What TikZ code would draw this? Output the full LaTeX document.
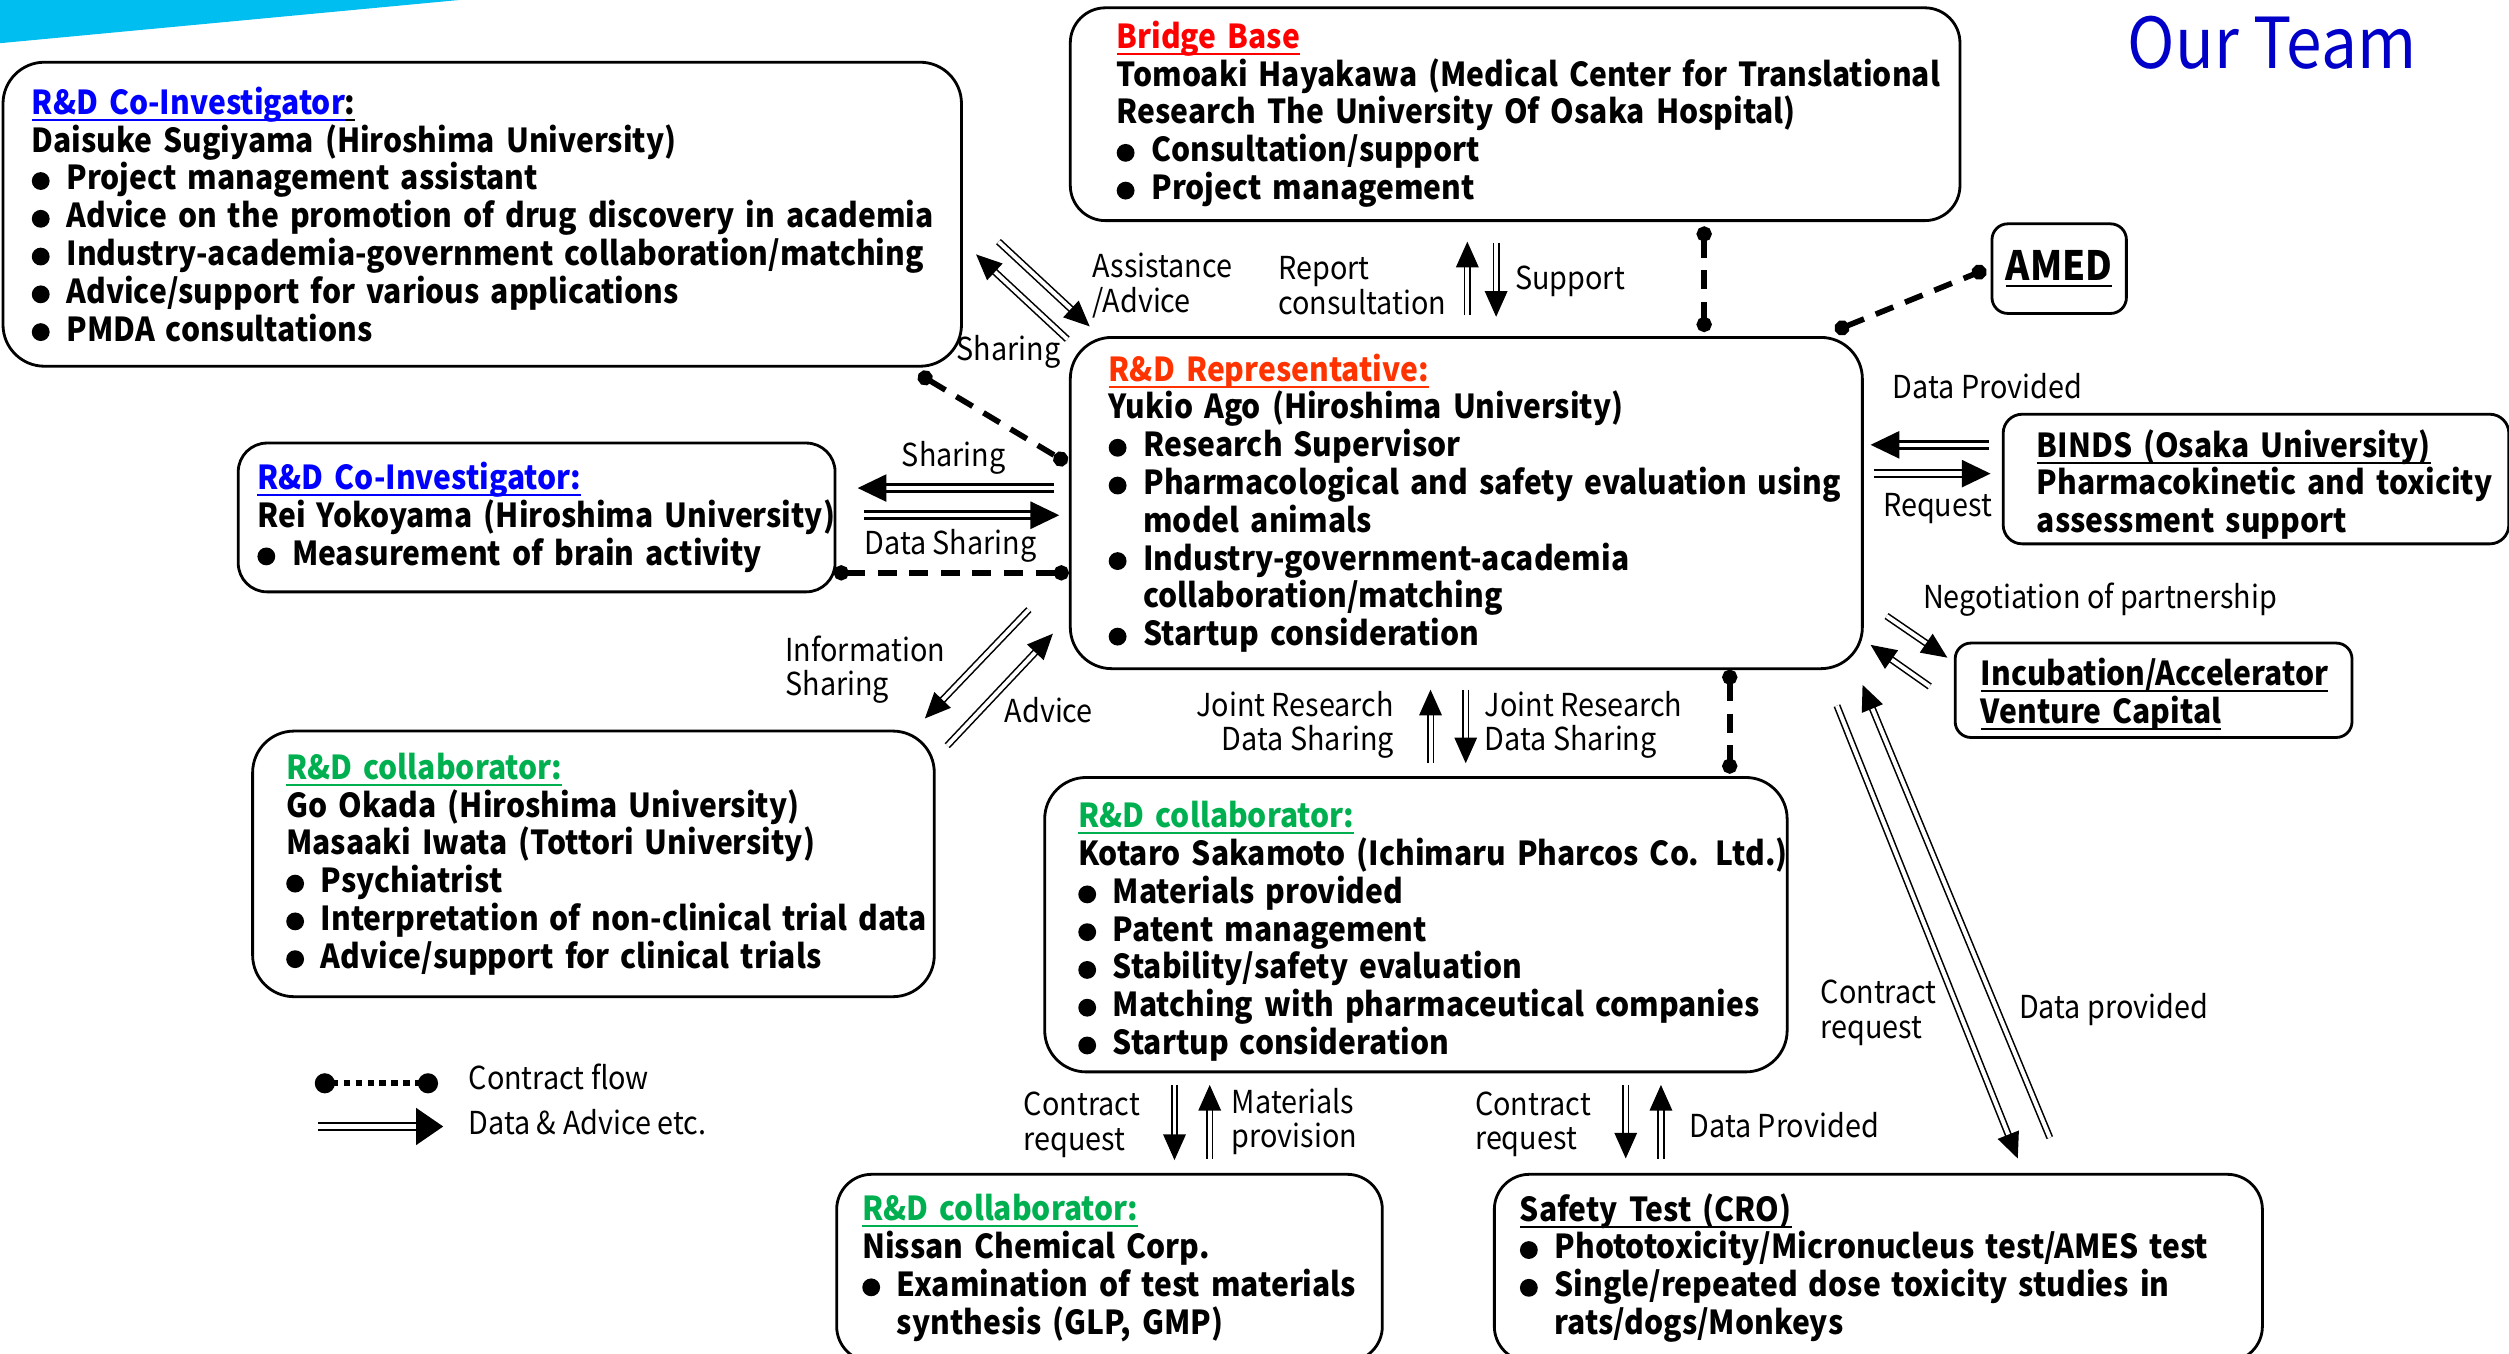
\documentclass[tikz,border=0pt]{standalone}
\usepackage{fontspec}
\setmainfont[FakeStretch=0.91]{Noto Sans CJK JP}
\usetikzlibrary{arrows.meta}

\newlength{\pu}
\setlength{\pu}{0.016cm}
\newsavebox{\ulbox}
\newcommand{\uline}[1]{\sbox{\ulbox}{#1}\mbox{\rlap{\rule[-1.9pt]{\wd\ulbox}{0.6pt}}\usebox{\ulbox}}}

\definecolor{coinv}{RGB}{0,0,255}
\definecolor{bridgered}{RGB}{255,0,0}
\definecolor{repred}{RGB}{255,51,0}
\definecolor{collab}{RGB}{0,176,80}
\definecolor{teamblue}{RGB}{0,0,200}
\definecolor{band}{RGB}{0,190,240}

\newcommand{\boxfont}{\fontsize{9.4pt}{10.75pt}\selectfont\bfseries\hyphenpenalty=10000 }
\newcommand{\lblfont}{\fontsize{9pt}{9.8pt}\selectfont}
\newcommand{\bl}{\makebox[1.05em][l]{\tikz\fill (0.27em,0.27em) circle (0.27em);}}
\newcommand{\ind}{\hspace*{1.05em}}
\newcommand{\lpad}[1]{\leftskip=#1\pu\relax\rightskip=-40\pu plus 1fil\relax}

\begin{document}
\begin{tikzpicture}[thick, x=\pu, y=-\pu,
    member/.style={draw, line width=0.8pt, rounded corners=11.8pt, anchor=north west,
        align=left, font=\boxfont, inner xsep=5\pu, inner ysep=0pt},
    lbl/.style={font=\lblfont, inner sep=0pt, align=left},
    flow/.style={double, double distance=1.13pt, line width=0.45pt,
        -{Triangle[length=7.3pt,width=6.4pt]}},
    bigflow/.style={flow, line width=0.73pt, double distance=1.27pt,
        -{Triangle[length=8.2pt,width=7.7pt]}},
    contract/.style={line width=1.6pt, dash pattern=on 5.4pt off 3.6pt,
        {Circle[length=4.3pt]}-{Circle[length=4.3pt]}}]
    \useasboundingbox (0,0) rectangle (1568,846);
    % corner band
    \fill[band] (0,0) -- (287,0) -- (0,27) -- cycle;
    \node[font=\fontsize{20pt}{24pt}\selectfont, text=teamblue, inner sep=0pt] (ourteam) at (1420,27) {Our Team};

    % team boxes
    \node[member, text width=589\pu, minimum height=190\pu] (coinvA) at (1,38)
        {\lpad{13}\textcolor{coinv}{\uline{R\&D Co-Investigator}}\uline{:}\\
        Daisuke Sugiyama (Hiroshima University)\\
        \bl Project management assistant\\
        \bl Advice on the promotion of drug discovery in academia\\
        \bl Industry-academia-government collaboration/matching\\
        \bl Advice/support for various applications\\
        \bl PMDA consultations\par};
    \node[member, rounded corners=10pt, text width=546\pu, minimum height=133\pu] (bridge) at (668,4)
        {\lpad{24}\textcolor{bridgered}{\uline{Bridge Base}}\\
        Tomoaki Hayakawa (Medical Center for Translational\\
        Research The University Of Osaka Hospital)\\
        \bl Consultation/support\\
        \bl Project management\par};
    \node[member, rounded corners=4.5pt, minimum width=84\pu, minimum height=56\pu, inner sep=0pt,
        align=center, font=\fontsize{11.5pt}{13pt}\selectfont\bfseries] (amed) at (1244,139) {\uline{AMED}};
    \node[member, text width=485\pu, minimum height=207\pu] (rep) at (668,210)
        {\lpad{19}\textcolor{repred}{\uline{R\&D Representative:}}\\
        Yukio Ago (Hiroshima University)\\
        \bl Research Supervisor\\
        \bl Pharmacological and safety evaluation using\\
        \ind model animals\\
        \bl Industry-government-academia\\
        \ind collaboration/matching\\
        \bl Startup consideration\par};
    \node[member, rounded corners=8.2pt, text width=363\pu, minimum height=93\pu] (coinvB) at (148,276)
        {\lpad{7}\textcolor{coinv}{\uline{R\&D Co-Investigator:}}\\
        Rei Yokoyama (Hiroshima University)\\
        \bl Measurement of brain activity\par};
    \node[member, rounded corners=5.4pt, text width=306\pu, minimum height=81\pu] (binds) at (1251,258)
        {\lpad{16}\rule{0pt}{1.16em}\uline{BINDS (Osaka University)}\\
        Pharmacokinetic and toxicity\\
        assessment support\par};
    \node[member, rounded corners=4.5pt, text width=238\pu, minimum height=59\pu] (incub) at (1221,401)
        {\lpad{11}\rule{0pt}{1.08em}\uline{Incubation/Accelerator}\\
        \uline{Venture Capital}\par};
    \node[member, text width=416\pu, minimum height=166\pu] (okada) at (157,456)
        {\lpad{16}\textcolor{collab}{\uline{R\&D collaborator:}}\\
        Go Okada (Hiroshima University)\\
        Masaaki Iwata (Tottori University)\\
        \bl Psychiatrist\\
        \bl Interpretation of non-clinical trial data\\
        \bl Advice/support for clinical trials\par};
    \node[member, text width=454\pu, minimum height=184\pu] (kotaro) at (652,485)
        {\lpad{16}\rule{0pt}{1.2em}\textcolor{collab}{\uline{R\&D collaborator:}}\\
        Kotaro Sakamoto (Ichimaru Pharcos Co. Ltd.)\\
        \bl Materials provided\\
        \bl Patent management\\
        \bl Stability/safety evaluation\\
        \bl Matching with pharmaceutical companies\\
        \bl Startup consideration\par};
    \node[member, rounded corners=10pt, text width=331\pu, minimum height=117\pu] (nissan) at (522,733)
        {\lpad{11}\textcolor{collab}{\uline{R\&D collaborator:}}\\
        Nissan Chemical Corp.\\
        \bl Examination of test materials\\
        \ind synthesis (GLP, GMP)\par};
    \node[member, rounded corners=10pt, text width=470\pu, minimum height=117\pu] (safety) at (933,733)
        {\lpad{11}\uline{Safety Test (CRO)}\\
        \bl Phototoxicity/Micronucleus test/AMES test\\
        \bl Single/repeated dose toxicity studies in\\
        \ind rats/dogs/Monkeys\par};

    % arrow ends
    \coordinate (assist0) at (624,151);   \coordinate (assist1) at (681,204);
    \coordinate (share0) at (667,212);    \coordinate (share1) at (610,159);
    \coordinate (report0) at (917,197);   \coordinate (report1) at (917,151);
    \coordinate (support0) at (935,152);  \coordinate (support1) at (935,198);
    \coordinate (reishare0) at (659,305); \coordinate (reishare1) at (536,305);
    \coordinate (reidata0) at (540,322);  \coordinate (reidata1) at (662,322);
    \coordinate (info0) at (643,381);     \coordinate (info1) at (578,449);
    \coordinate (advice0) at (592,466);   \coordinate (advice1) at (658,396);
    \coordinate (jointup0) at (894,477);  \coordinate (jointup1) at (894,431);
    \coordinate (jointdn0) at (916,431);  \coordinate (jointdn1) at (916,477);
    \coordinate (bindsdata0) at (1243,278); \coordinate (bindsdata1) at (1169,278);
    \coordinate (request0) at (1171,296); \coordinate (request1) at (1244,296);
    \coordinate (nego0) at (1179,385);    \coordinate (nego1) at (1217,411);
    \coordinate (negoback0) at (1206,429); \coordinate (negoback1) at (1169,403);
    \coordinate (crocontract0) at (1148,441); \coordinate (crocontract1) at (1261,724);
    \coordinate (crodata0) at (1281,711); \coordinate (crodata1) at (1164,428);
    \coordinate (nissanreq0) at (734,678); \coordinate (nissanreq1) at (734,725);
    \coordinate (material0) at (756,724); \coordinate (material1) at (756,678);
    \coordinate (safetyreq0) at (1016,678); \coordinate (safetyreq1) at (1016,724);
    \coordinate (safetydata0) at (1038,724); \coordinate (safetydata1) at (1038,678);

    % data & advice flows
    \draw[flow] (assist0) -- (assist1);
    \draw[flow] (share0) -- (share1);
    \draw[flow] (report0) -- (report1);
    \draw[flow] (support0) -- (support1);
    \draw[bigflow] (reishare0) -- (reishare1);
    \draw[bigflow] (reidata0) -- (reidata1);
    \draw[flow] (info0) -- (info1);
    \draw[flow] (advice0) -- (advice1);
    \draw[flow] (jointup0) -- (jointup1);
    \draw[flow] (jointdn0) -- (jointdn1);
    \draw[bigflow] (bindsdata0) -- (bindsdata1);
    \draw[bigflow] (request0) -- (request1);
    \draw[flow] (nego0) -- (nego1);
    \draw[flow] (negoback0) -- (negoback1);
    \draw[flow] (crocontract0) -- (crocontract1);
    \draw[flow] (crodata0) -- (crodata1);
    \draw[flow] (nissanreq0) -- (nissanreq1);
    \draw[flow] (material0) -- (material1);
    \draw[flow] (safetyreq0) -- (safetyreq1);
    \draw[flow] (safetydata0) -- (safetydata1);

    % contract flows
    \coordinate (bridgec0) at (1065,141.5);  \coordinate (bridgec1) at (1065,207.5);
    \coordinate (amedc0) at (1146.8,206.7);  \coordinate (amedc1) at (1241.2,168.3);
    \coordinate (coinvc0) at (574.1,233.7);  \coordinate (coinvc1) at (666.9,289.3);
    \coordinate (reic0) at (521,358);        \coordinate (reic1) at (668,358);
    \coordinate (kotaroc0) at (1081,418.5);  \coordinate (kotaroc1) at (1081,483.5);
    \draw[contract] (bridgec0) -- (bridgec1);
    \draw[contract] (amedc0) -- (amedc1);
    \draw[contract] (coinvc0) -- (coinvc1);
    \draw[contract] (reic0) -- (reic1);
    \draw[contract] (kotaroc0) -- (kotaroc1);

    % flow labels
    \node[lbl, anchor=west] (lassist) at (682,178.5) {Assistance\\/Advice};
    \node[lbl, anchor=west] (lreport) at (798,178.5) {Report\\consultation};
    \node[lbl, anchor=west] (lsupport) at (946,176) {Support};
    \node[lbl, anchor=west] (lshare) at (597,220) {Sharing};
    \node[lbl] (lreishare) at (596,286) {Sharing};
    \node[lbl] (lreidata) at (594,341) {Data Sharing};
    \node[lbl, anchor=west] (linfo) at (490,418.5) {Information\\Sharing};
    \node[lbl, anchor=west] (ladvice) at (627,444) {Advice};
    \node[lbl, anchor=west] (lbindsdata) at (1182,241) {Data Provided};
    \node[lbl, anchor=west] (lrequest) at (1176,318) {Request};
    \node[lbl, anchor=west] (lnego) at (1201,375) {Negotiation of partnership};
    \node[lbl, anchor=east, align=right] (ljointup) at (872,453) {Joint Research\\Data Sharing};
    \node[lbl, anchor=west] (ljointdn) at (927,453) {Joint Research\\Data Sharing};
    \node[lbl, anchor=west] (lnissanreq) at (639,703) {Contract\\request};
    \node[lbl, anchor=west] (lmaterial) at (769,701) {Materials\\provision};
    \node[lbl, anchor=west] (lsafetyreq) at (921,702.5) {Contract\\request};
    \node[lbl, anchor=west] (lsafetydata) at (1055,703) {Data Provided};
    \node[lbl, anchor=west] (lcrocontract) at (1137,633) {Contract\\request};
    \node[lbl, anchor=west] (lcrodata) at (1261,631) {Data provided};

    % legend
    \coordinate (legc0) at (196.75,677);  \coordinate (legc1) at (273.75,677);
    \coordinate (legf0) at (199,704);     \coordinate (legf1) at (277,704);
    \draw[line width=1.8pt, dash pattern=on 1.8pt off 1.6pt,
        {Circle[length=5.7pt]}-{Circle[length=5.7pt]}] (legc0) -- (legc1);
    \draw[bigflow, -{Triangle[length=7.7pt,width=10.4pt]}] (legf0) -- (legf1);
    \node[lbl, anchor=west] (lcontract) at (292,673) {Contract flow};
    \node[lbl, anchor=west] (ldata) at (292,701) {Data \& Advice etc.};
\end{tikzpicture}
\end{document}
